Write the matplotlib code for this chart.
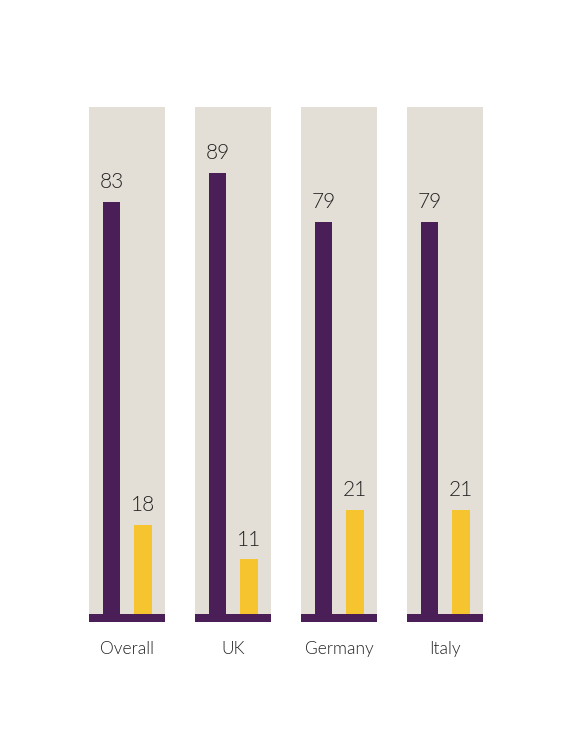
import matplotlib.pyplot as plt

categories = ["Overall", "UK", "Germany", "Italy"]
purple_vals = [83, 89, 79, 79]
yellow_vals = [18, 11, 21, 21]

PURPLE = "#4a1f57"
YELLOW = "#f6c42f"
BEIGE = "#e3dfd6"
TEXT = "#222222"

PX_PER_UNIT = 4.96   # vertical scale
BASE_PX = 120        # baseline height above the figure bottom, pixels

fig = plt.figure(figsize=(5.8, 7.34), dpi=100)
ax = fig.add_axes([0, 0, 1, 1])
ax.set_xlim(-127 / 106, (580 - 127) / 106)
ax.set_ylim(-BASE_PX / PX_PER_UNIT, (734 - BASE_PX) / PX_PER_UNIT)
ax.axis("off")

x = list(range(len(categories)))
panel_w = 76 / 106
off_p, off_y = -15.5 / 106, 16 / 106
w_p, w_y = 17 / 106, 18 / 106

# background panels and base strip
ax.bar(x, 507 / PX_PER_UNIT, width=panel_w, color=BEIGE, zorder=1)
ax.bar(x, -8 / PX_PER_UNIT, width=panel_w, color=PURPLE, zorder=3)

ax.bar([i + off_p for i in x], purple_vals, width=w_p, color=PURPLE, zorder=2)
ax.bar([i + off_y for i in x], yellow_vals, width=w_y, color=YELLOW, zorder=2)

font = dict(family="Lato", fontweight=300, color=TEXT)
for i in x:
    ax.text(i + off_p, purple_vals[i] + 2.0, str(purple_vals[i]), ha="center",
            va="bottom", fontsize=15, **font)
    ax.text(i + off_y, yellow_vals[i] + 2.0, str(yellow_vals[i]), ha="center",
            va="bottom", fontsize=15, **font)
    ax.text(i, -35 / PX_PER_UNIT, categories[i], ha="center", va="center",
            fontsize=12.5, **font)

fig.savefig("out.png", dpi=100, facecolor="white")
